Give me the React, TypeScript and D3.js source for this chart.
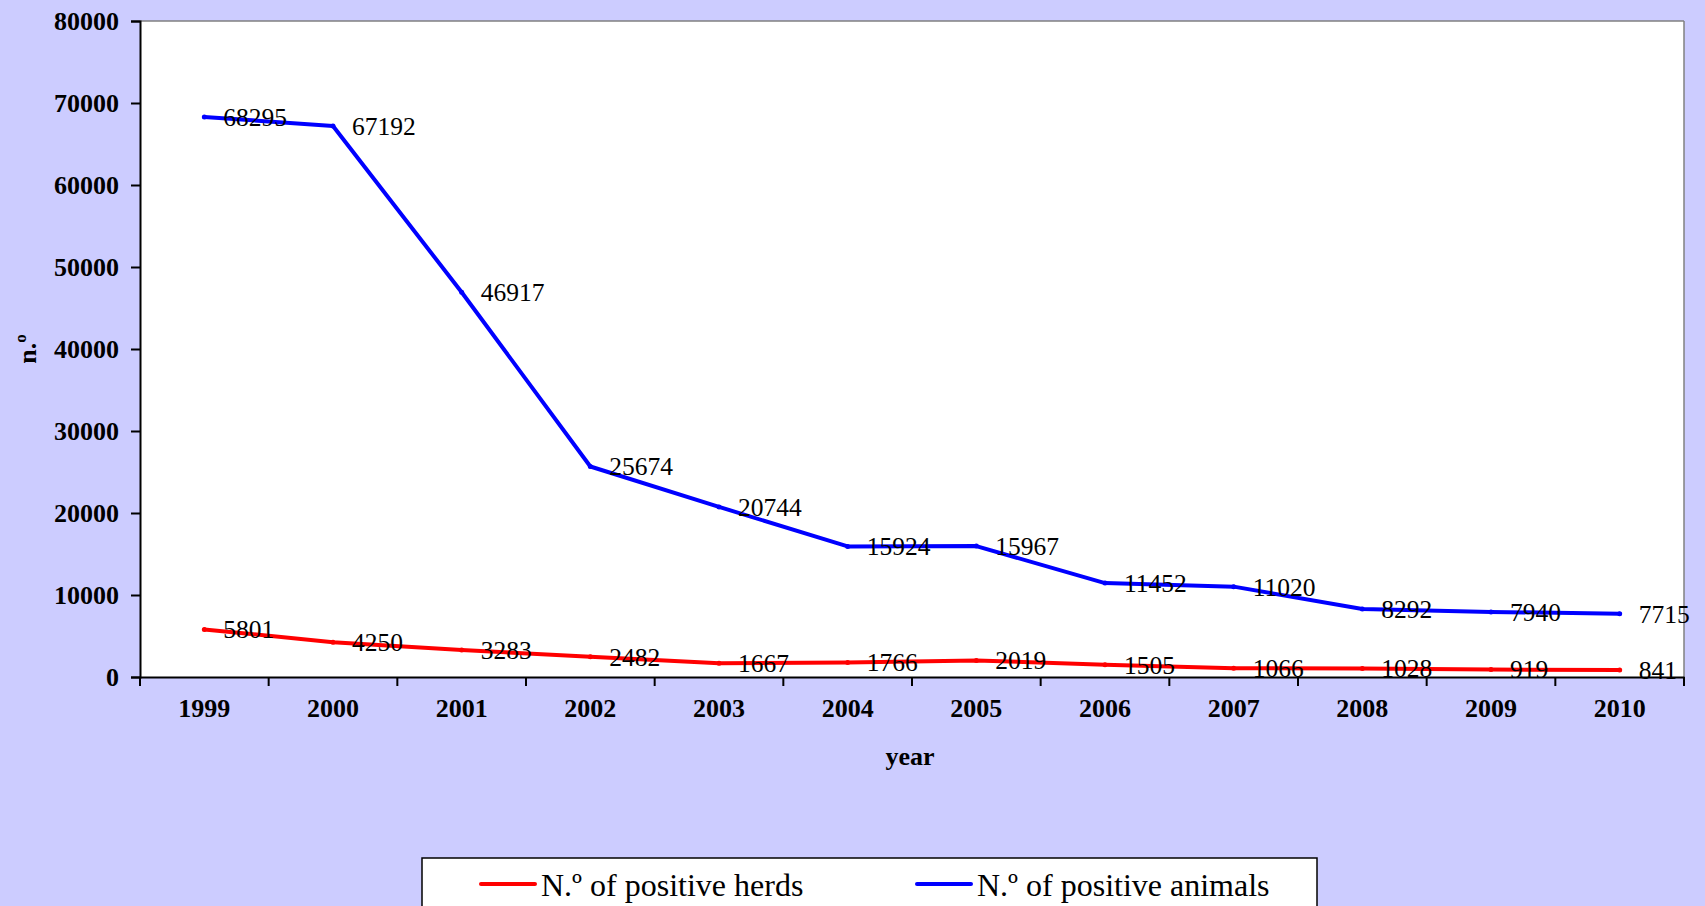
import { useEffect, useRef } from 'react';
import * as d3 from 'd3';

const years = ['1999', '2000', '2001', '2002', '2003', '2004', '2005', '2006', '2007', '2008', '2009', '2010'];
const herds = [5801, 4250, 3283, 2482, 1667, 1766, 2019, 1505, 1066, 1028, 919, 841];
const animals = [68295, 67192, 46917, 25674, 20744, 15924, 15967, 11452, 11020, 8292, 7940, 7715];
const yTicks = [0, 10000, 20000, 30000, 40000, 50000, 60000, 70000, 80000];

const seriesList = [
  { name: 'N.º of positive herds', values: herds, color: '#ff0000' },
  { name: 'N.º of positive animals', values: animals, color: '#0000ff' },
];

const W = 1705;
const H = 906;
const FONT = '"Liberation Serif", "Times New Roman", serif';

function App() {
  const svgRef = useRef(null);

  useEffect(() => {
    const svg = d3.select(svgRef.current);
    svg.selectAll('*').remove();

    const left = 140, right = 1684, top = 21, bottom = 677;

    const x = d3.scaleBand().domain(years).range([left, right]);
    const y = d3.scaleLinear().domain([0, 80000]).range([bottom, top]);
    const cx = (yr) => x(yr) + x.bandwidth() / 2;

    svg.append('rect').attr('width', W).attr('height', H).attr('fill', '#ccccff');

    // plot area
    svg.append('rect')
      .attr('x', left).attr('y', top)
      .attr('width', right - left).attr('height', bottom - top)
      .attr('fill', '#ffffff');
    svg.append('line')
      .attr('x1', left).attr('x2', right).attr('y1', top).attr('y2', top)
      .attr('stroke', '#808080').attr('stroke-width', 1.5);
    svg.append('line')
      .attr('x1', right).attr('x2', right).attr('y1', top).attr('y2', bottom)
      .attr('stroke', '#808080').attr('stroke-width', 1.5);

    // y axis
    const yAxis = svg.append('g').attr('transform', `translate(${left},0)`)
      .call(d3.axisLeft(y).tickValues(yTicks).tickSize(9).tickPadding(12).tickFormat(d3.format('d')));
    yAxis.select('.domain').attr('stroke', '#000').attr('stroke-width', 2);
    yAxis.selectAll('.tick line').attr('stroke', '#000').attr('stroke-width', 2);
    yAxis.selectAll('text')
      .attr('font-family', FONT).attr('font-size', 26).attr('font-weight', 'bold').attr('fill', '#000');

    // x axis
    const xAxis = svg.append('g').attr('transform', `translate(0,${bottom})`)
      .call(d3.axisBottom(x).tickSize(0).tickPadding(22));
    xAxis.select('.domain').attr('stroke', '#000').attr('stroke-width', 2);
    xAxis.selectAll('text')
      .attr('font-family', FONT).attr('font-size', 26).attr('font-weight', 'bold').attr('fill', '#000');
    const bounds = years.map((yr) => x(yr)).concat([right]);
    svg.append('g').selectAll('line').data(bounds).join('line')
      .attr('x1', (d) => d).attr('x2', (d) => d)
      .attr('y1', bottom).attr('y2', bottom + 9)
      .attr('stroke', '#000').attr('stroke-width', 2);

    // axis titles
    svg.append('text')
      .attr('x', 910).attr('y', 765).attr('text-anchor', 'middle')
      .attr('font-family', FONT).attr('font-size', 26).attr('font-weight', 'bold')
      .text('year');
    svg.append('text')
      .attr('transform', `translate(36,${(top + bottom) / 2}) rotate(-90)`)
      .attr('text-anchor', 'middle')
      .attr('font-family', FONT).attr('font-size', 26).attr('font-weight', 'bold')
      .text('n.º');

    const line = d3.line().x((d, i) => cx(years[i])).y((d) => y(d));

    seriesList.forEach((s) => {
      svg.append('path')
        .attr('d', line(s.values))
        .attr('fill', 'none').attr('stroke', s.color)
        .attr('stroke-width', 4).attr('stroke-linejoin', 'round').attr('stroke-linecap', 'round');
      svg.append('g').selectAll('circle').data(s.values).join('circle')
        .attr('cx', (d, i) => cx(years[i])).attr('cy', (d) => y(d))
        .attr('r', 2.5).attr('fill', s.color);
    });

    seriesList.forEach((s) => {
      svg.append('g').selectAll('text').data(s.values).join('text')
        .attr('x', (d, i) => cx(years[i]) + 19)
        .attr('y', (d) => y(d))
        .attr('dy', '0.35em')
        .attr('font-family', FONT).attr('font-size', 25.5).attr('fill', '#000')
        .text((d) => d);
    });

    // legend
    const lg = svg.append('g');
    lg.append('rect')
      .attr('x', 422).attr('y', 858).attr('width', 895).attr('height', 60)
      .attr('fill', '#ffffff').attr('stroke', '#000').attr('stroke-width', 1.5);
    const legendX = [481, 917];
    seriesList.forEach((s, i) => {
      lg.append('line')
        .attr('x1', legendX[i]).attr('x2', legendX[i] + 54)
        .attr('y1', 884).attr('y2', 884)
        .attr('stroke', s.color).attr('stroke-width', 4).attr('stroke-linecap', 'round');
      lg.append('text')
        .attr('x', legendX[i] + 60).attr('y', 896)
        .attr('font-family', FONT).attr('font-size', 32).attr('fill', '#000')
        .text(s.name);
    });
  }, []);

  return (
    <div style={{ position: 'absolute', left: 0, top: 0 }}>
      <svg ref={svgRef} width={W} height={H} style={{ display: 'block' }} />
    </div>
  );
}

export default App;
